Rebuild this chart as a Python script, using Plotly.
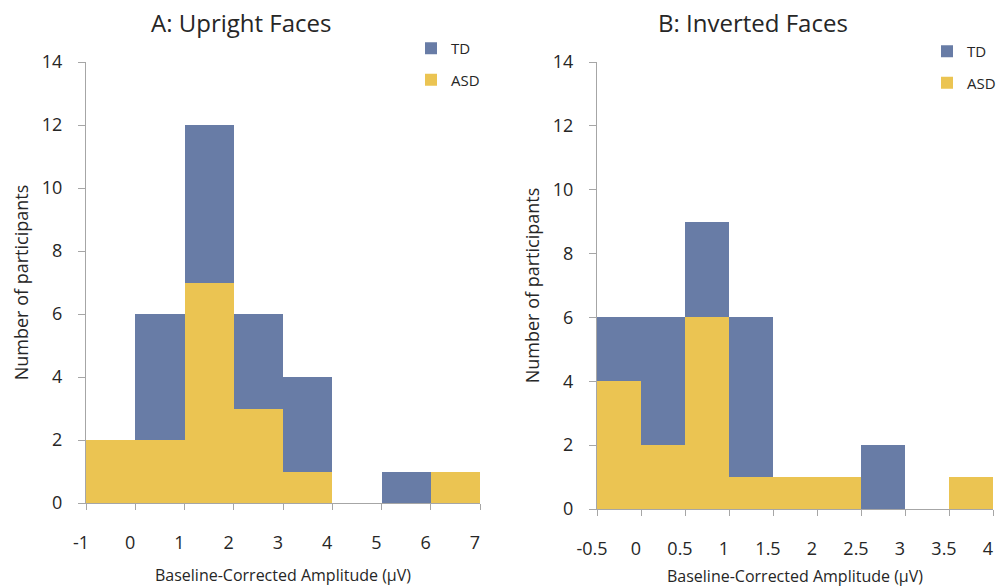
import plotly.graph_objects as go

# Panel A: Upright faces (bin width 1)
a_edges = [-1, 0, 1, 2, 3, 4, 5, 6, 7]
a_td = [2, 6, 12, 6, 4, 0, 1, 0]
a_asd = [2, 2, 7, 3, 1, 0, 0, 1]

# Panel B: Inverted faces (bin width 0.5)
b_edges = [-0.5, 0, 0.5, 1, 1.5, 2, 2.5, 3, 3.5, 4]
b_td = [6, 6, 9, 6, 0, 0, 2, 0, 0]
b_asd = [4, 2, 6, 1, 1, 1, 0, 0, 1]

y_ticks = [0, 2, 4, 6, 8, 10, 12, 14]
a_ticks = [-1, 0, 1, 2, 3, 4, 5, 6, 7]
a_ticktext = ["-1", "0", "1", "2", "3", "4", "5", "6", "7"]
b_ticks = [-0.5, 0, 0.5, 1, 1.5, 2, 2.5, 3, 3.5, 4]
b_ticktext = ["-0.5", "0", "0.5", "1", "1.5", "2", "2.5", "3", "3.5", "4"]

TD_COLOR = "#687ca6"
ASD_COLOR = "#ebc452"
AXIS_COLOR = "#a6a6a6"
FONT = "Open Sans"
TEXT = "#262626"

def centers(edges):
    return [(edges[i] + edges[i + 1]) / 2 for i in range(len(edges) - 1)]

def widths(edges):
    return [edges[i + 1] - edges[i] for i in range(len(edges) - 1)]

fig = go.Figure()
for xa, ya, lg, edges, td, asd in [("x", "y", "legend", a_edges, a_td, a_asd),
                                   ("x2", "y2", "legend2", b_edges, b_td, b_asd)]:
    fig.add_trace(go.Bar(x=centers(edges), y=td, width=widths(edges), name="TD", legendgroup="td" + xa,
                         marker=dict(color=TD_COLOR, line=dict(width=0)), xaxis=xa, yaxis=ya, legend=lg))
    fig.add_trace(go.Bar(x=centers(edges), y=asd, width=widths(edges), name="ASD", legendgroup="asd" + xa,
                         marker=dict(color=ASD_COLOR, line=dict(width=0)), xaxis=xa, yaxis=ya, legend=lg))

xaxis_common = dict(showgrid=False, zeroline=False, showline=True, linecolor=AXIS_COLOR, linewidth=1,
                    ticks="outside", ticklen=6, tickcolor=AXIS_COLOR, tickwidth=1, automargin=False,
                    ticklabelstandoff=17, ticklabelshift=-5,
                    tickfont=dict(family=FONT, size=18, color=TEXT))
yaxis_common = dict(showgrid=False, zeroline=False, showline=True, linecolor=AXIS_COLOR, linewidth=1,
                    ticks="outside", ticklen=7, tickcolor=AXIS_COLOR, tickwidth=1, automargin=False,
                    ticklabelstandoff=12,
                    tickfont=dict(family=FONT, size=18, color=TEXT))

xtitle = dict(text="Baseline-Corrected Amplitude (μV)", font=dict(family=FONT, size=16, color=TEXT), standoff=17)
ytitle = dict(text="Number of participants", font=dict(family=FONT, size=18, color=TEXT), standoff=8)

legend_common = dict(xanchor="left", yanchor="top", traceorder="grouped",
                     font=dict(family=FONT, size=15, color=TEXT), tracegroupgap=9, itemwidth=30,
                     bgcolor="rgba(0,0,0,0)")

fig.update_layout(
    width=996, height=587,
    margin=dict(l=0, r=0, t=0, b=0, autoexpand=False),
    paper_bgcolor="white", plot_bgcolor="white",
    barmode="overlay", bargap=0,
    font=dict(family=FONT, color=TEXT),
    xaxis=dict(domain=[86 / 996, 480 / 996], range=[-1, 7], tickvals=a_ticks, ticktext=a_ticktext,
               anchor="y", title=xtitle, **xaxis_common),
    yaxis=dict(domain=[1 - 503 / 587, 1 - 62 / 587], range=[0, 14], tickvals=y_ticks, anchor="x",
               title=ytitle, **yaxis_common),
    xaxis2=dict(domain=[597 / 996, 993 / 996], range=[-0.5, 4], tickvals=b_ticks, ticktext=b_ticktext,
                anchor="y2", title=xtitle, **xaxis_common),
    yaxis2=dict(domain=[1 - 509 / 587, 1 - 62 / 587], range=[0, 14], tickvals=y_ticks, anchor="x2",
                title=ytitle, **yaxis_common),
    legend=dict(x=411 / 996, y=1 - 32 / 587, **legend_common),
    legend2=dict(x=927 / 996, y=1 - 35 / 587, **legend_common),
    annotations=[
        dict(text="A: Upright Faces", x=241 / 996, y=1 - 22 / 587, xref="paper", yref="paper",
             showarrow=False, font=dict(family=FONT, size=24, color=TEXT), xanchor="center", yanchor="middle"),
        dict(text="B: Inverted Faces", x=753 / 996, y=1 - 22 / 587, xref="paper", yref="paper",
             showarrow=False, font=dict(family=FONT, size=24, color=TEXT), xanchor="center", yanchor="middle"),
    ],
)

fig.write_html("out.html")
